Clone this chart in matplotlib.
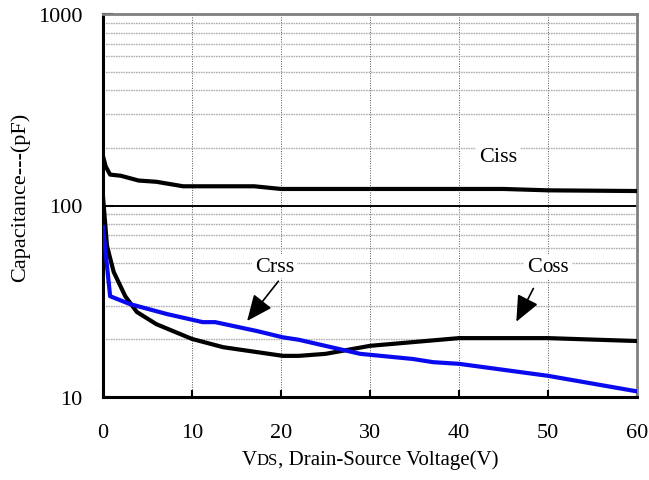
import matplotlib
matplotlib.use('Agg')
import matplotlib.pyplot as plt
from matplotlib.offsetbox import TextArea, HPacker, AnnotationBbox
from matplotlib.ticker import FixedLocator, NullFormatter

# capacitance curves (V, pF)
ciss_v = [0, 0.3, 0.8, 2, 4, 6, 9, 17, 20, 45, 50, 60]
ciss_c = [181, 160, 145, 143, 135, 133, 126, 126, 122, 122, 120, 119]

coss_v = [0, 0.45, 1.2, 2.5, 3.8, 6, 10, 13.5, 20.2, 22, 25, 30, 40, 50, 60]
coss_c = [111, 61.5, 45, 33.6, 27.8, 24, 20.1, 18.2, 16.4, 16.4, 16.8, 18.5, 20.3, 20.3, 19.6]

crss_v = [0, 0.8, 3, 7.2, 11.2, 12.6, 17.3, 20.2, 22, 28.9, 34.8, 37.1, 40, 50, 60]
crss_c = [77, 33.6, 30.6, 27.1, 24.6, 24.6, 22.1, 20.5, 19.9, 16.8, 15.8, 15.2, 14.9, 12.9, 10.7]

xticks = [0, 10, 20, 30, 40, 50, 60]
yticks = [10, 100, 1000]

plt.rcParams['font.family'] = 'Liberation Serif'
fs = 16

fig = plt.figure(figsize=(6.49, 4.81), dpi=100)
ax = fig.add_axes([103 / 649, 83 / 481, 534 / 649, 383 / 481])

ax.set_yscale('log')
ax.set_xlim(0, 60)
ax.set_ylim(10, 1000)

# grid: dotted verticals, light dashed minor horizontals, solid black at 100
for v in xticks[1:-1]:
    ax.axvline(v, color='#555555', lw=0.7, ls=(0, (1, 1.5)), zorder=1)
minors = [m * d for d in (10, 100) for m in range(2, 10)]
for m in minors:
    ax.axhline(m, color='#b0b0b0', lw=1.0, ls=(0, (1.2, 0.6)), zorder=1)
ax.axhline(100, color='black', lw=1.4, zorder=1)

ax.plot(ciss_v, ciss_c, color='black', lw=3, zorder=3)
ax.plot(coss_v, coss_c, color='black', lw=3, zorder=3)
ax.plot(crss_v, crss_c, color='#0a0aee', lw=3, zorder=3)

ax.set_xticks(xticks)
ax.yaxis.set_major_locator(FixedLocator(yticks))
ax.yaxis.set_minor_locator(FixedLocator([]))
ax.yaxis.set_minor_formatter(NullFormatter())
ax.set_yticklabels([str(t) for t in yticks])
ax.tick_params(axis='x', direction='in', length=5, width=1.5, pad=19, labelsize=fs)
ax.tick_params(axis='y', direction='in', length=7, width=1.5, pad=15, labelsize=fs)

for s in ('left', 'bottom'):
    ax.spines[s].set_linewidth(2.2)
    ax.spines[s].set_color('black')
for s in ('top', 'right'):
    ax.spines[s].set_linewidth(2.0)
    ax.spines[s].set_color('#808080')

ax.set_ylabel('Capacitance---(pF)', fontsize=16)
ax.yaxis.set_label_coords(-0.137, 0.525)

# x label with small caps "DS"
xl = HPacker(children=[TextArea('V', textprops=dict(fontsize=15)),
                       TextArea('DS', textprops=dict(fontsize=12)),
                       TextArea(', Drain-Source Voltage(V)', textprops=dict(fontsize=15))],
             align='baseline', pad=0, sep=0)
ab = AnnotationBbox(xl, (0.5, -0.163), xycoords='axes fraction', frameon=False,
                    box_alignment=(0.5, 0.5))
ax.add_artist(ab)

# curve labels
ax.text(44.4, 181, 'Ciss', fontsize=fs, ha='center', va='center', zorder=4,
        bbox=dict(fc='white', ec='none', pad=2))
ax.text(19.3, 48.3, 'Crss', fontsize=fs, ha='center', va='center', zorder=4,
        bbox=dict(fc='white', ec='none', pad=2))
cl = HPacker(children=[TextArea('C', textprops=dict(fontsize=fs)),
                       TextArea('oss', textprops=dict(fontsize=fs - 1))],
             align='baseline', pad=0, sep=0)
ab2 = AnnotationBbox(cl, (50, 47.8), xycoords='data', frameon=True,
                     box_alignment=(0.5, 0.5), bboxprops=dict(fc='white', ec='none'),
                     pad=0.2, zorder=4)
ax.add_artist(ab2)

arrow = dict(arrowstyle='-|>,head_length=1.6,head_width=0.7', color='black', lw=1.2)
ax.annotate('', xy=(16, 24.3), xytext=(19.9, 41.3), arrowprops=arrow, zorder=5)
ax.annotate('', xy=(46.3, 24), xytext=(48.5, 38), arrowprops=arrow, zorder=5)

fig.savefig('out.png', dpi=100)
